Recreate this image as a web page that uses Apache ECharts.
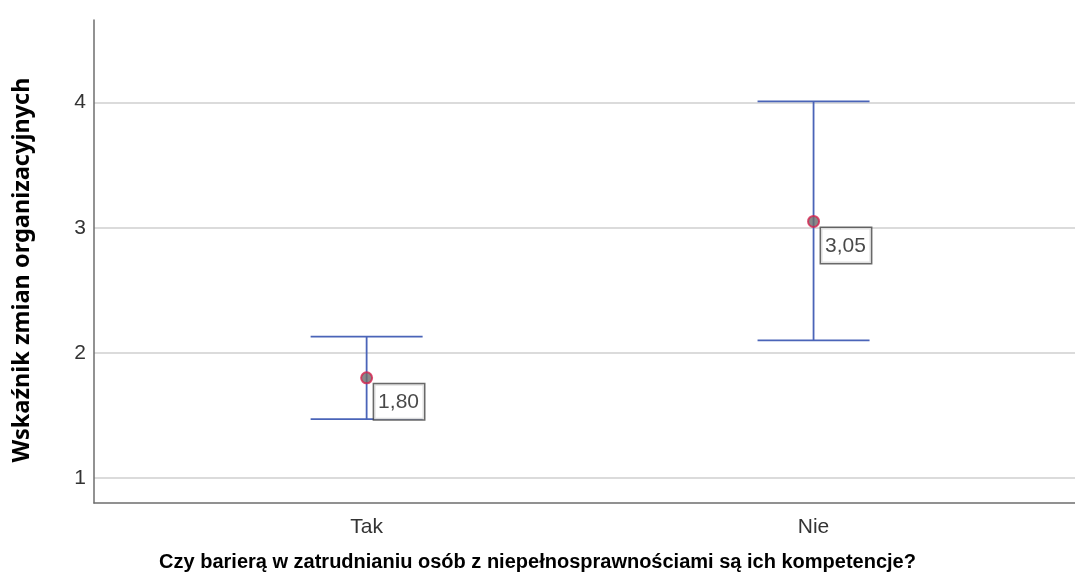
<!DOCTYPE html>
<html>
<head>
<meta charset="utf-8">
<script src="https://cdn.jsdelivr.net/npm/echarts@6/dist/echarts.min.js"></script>
<style>
  html, body { margin: 0; padding: 0; background: #fff; }
  #chart { width: 1075px; height: 586px; }
</style>
</head>
<body>
<div id="chart"></div>
<script>
// dane
var categories = ['Tak', 'Nie'];
var means = [1.80, 3.05];
var lowerCI = [1.47, 2.10];
var upperCI = [2.13, 4.01];
var yTicks = [1, 2, 3, 4];

var positions = categories.map(function (c, i) { return i + 1; });

var barData = [];
var pointData = [];
for (var i = 0; i < categories.length; i++) {
  barData.push([positions[i], lowerCI[i], upperCI[i]]);
  pointData.push([positions[i], means[i]]);
}

var chart = echarts.init(document.getElementById('chart'));

var option = {
  animation: false,
  grid: { left: 94, right: 0, top: 20, bottom: 83 },
  xAxis: {
    type: 'value',
    min: 0.39,
    max: 2.585,
    axisLine: { show: true, lineStyle: { color: '#6e6e6e', width: 1.5 } },
    axisTick: { show: false },
    splitLine: { show: false },
    axisLabel: {
      customValues: positions,
      formatter: function (v) { return categories[Math.round(v) - 1] || ''; },
      color: '#333',
      fontFamily: 'Liberation Sans',
      fontSize: 21,
      margin: 14
    }
  },
  yAxis: {
    type: 'value',
    min: 0.8,
    max: 4.66,
    minInterval: 1,
    axisLine: { show: true, lineStyle: { color: '#6e6e6e', width: 1.5 } },
    axisTick: { show: false },
    splitLine: {
      show: true,
      showMinLine: false,
      showMaxLine: false,
      lineStyle: { color: '#cfcfcf', width: 1.5 }
    },
    axisLabel: {
      customValues: yTicks,
      color: '#333',
      fontFamily: 'Liberation Sans',
      fontSize: 21,
      margin: 8
    }
  },
  graphic: [
    {
      type: 'text',
      left: 'center',
      top: 552,
      style: {
        text: 'Czy barierą w zatrudnianiu osób z niepełnosprawnościami są ich kompetencje?',
        font: 'bold 20px "Liberation Sans", Arial, sans-serif',
        fill: '#000'
      }
    },
    {
      type: 'text',
      x: 22,
      y: 270,
      rotation: Math.PI / 2,
      style: {
        text: 'Wskaźnik zmian organizacyjnych',
        font: 'bold 23.5px "Noto Sans", sans-serif',
        fill: '#000',
        align: 'center',
        verticalAlign: 'middle'
      }
    }
  ],
  series: [
    {
      type: 'custom',
      data: barData,
      renderItem: function (params, api) {
        var x = api.value(0);
        var lo = api.coord([x, api.value(1)]);
        var hi = api.coord([x, api.value(2)]);
        var half = 56;
        var st = { stroke: '#4a64b8', lineWidth: 1.8 };
        return {
          type: 'group',
          children: [
            { type: 'line', shape: { x1: lo[0], y1: lo[1], x2: hi[0], y2: hi[1] }, style: st },
            { type: 'line', shape: { x1: hi[0] - half, y1: hi[1], x2: hi[0] + half, y2: hi[1] }, style: st },
            { type: 'line', shape: { x1: lo[0] - half, y1: lo[1], x2: lo[0] + half, y2: lo[1] }, style: st }
          ]
        };
      },
      z: 2
    },
    {
      type: 'scatter',
      data: pointData,
      symbol: 'circle',
      symbolSize: 11,
      itemStyle: { color: '#6b6b6b', borderColor: '#d3234f', borderWidth: 2 },
      label: {
        show: true,
        position: [14, 13],
        formatter: function (p) { return p.value[1].toFixed(2).replace('.', ','); },
        color: '#1a1a1a',
        fontFamily: 'Liberation Sans',
        fontSize: 21,
        lineHeight: 22,
        backgroundColor: '#fff',
        borderColor: '#444',
        borderWidth: 1.5,
        padding: [7, 5, 6, 4]
      },
      z: 3
    }
  ]
};

chart.setOption(option);
</script>
</body>
</html>
